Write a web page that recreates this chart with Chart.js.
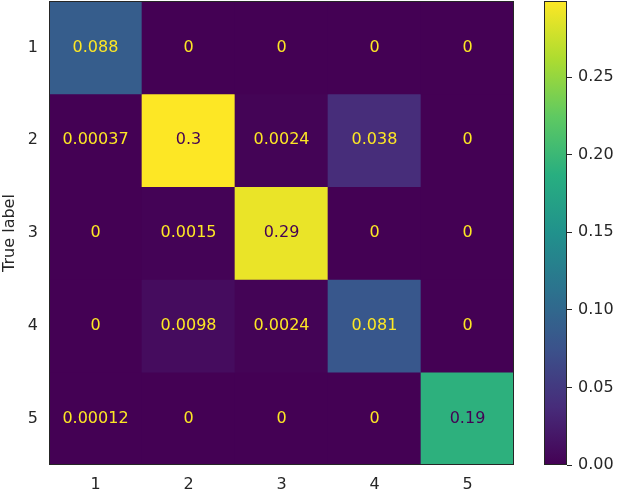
<!DOCTYPE html>
<html>
<head>
<meta charset="utf-8">
<script src="https://cdn.jsdelivr.net/npm/chart.js@4.4.1/dist/chart.umd.min.js"></script>
<style>
  body { margin: 0; background: #fff; }
  #wrap { position: relative; width: 617px; height: 491px; }
  #wrap canvas { position: absolute; left: 0; top: 0; }
</style>
</head>
<body>
<div id="wrap">
  <canvas id="matrix" width="617" height="491"></canvas>
  <canvas id="cbar" width="617" height="491"></canvas>
</div>
<script>
// Confusion matrix data (rows = true label, columns = predicted label)
const trueLabels = ['1', '2', '3', '4', '5'];
const predLabels = ['1', '2', '3', '4', '5'];
const row1 = [0.088, 0, 0, 0, 0];
const row2 = [0.00037, 0.299, 0.0024, 0.038, 0];
const row3 = [0, 0.0015, 0.29, 0, 0];
const row4 = [0, 0.0098, 0.0024, 0.081, 0];
const row5 = [0.00012, 0, 0, 0, 0.19];
const cbarTicks = [0, 0.05, 0.1, 0.15, 0.2, 0.25];

const matrix = [row1, row2, row3, row4, row5];
const vmax = Math.max(...matrix.flat());

// Viridis colormap stops
const viridisStops = [
  [0.0, [68, 1, 84]],
  [0.125, [71, 44, 122]],
  [0.25, [59, 82, 139]],
  [0.375, [44, 114, 142]],
  [0.5, [33, 145, 140]],
  [0.625, [40, 174, 128]],
  [0.75, [94, 201, 98]],
  [0.875, [173, 220, 48]],
  [1.0, [253, 231, 37]]
];

function viridis(t) {
  t = Math.min(1, Math.max(0, t));
  for (let i = 1; i < viridisStops.length; i++) {
    const [t1, c1] = viridisStops[i];
    const [t0, c0] = viridisStops[i - 1];
    if (t <= t1) {
      const f = (t - t0) / (t1 - t0);
      const c = c0.map((v, k) => Math.round(v + (c1[k] - v) * f));
      return `rgb(${c[0]}, ${c[1]}, ${c[2]})`;
    }
  }
  return 'rgb(253, 231, 37)';
}

const FONT = { family: '"DejaVu Sans", sans-serif', size: 16 };
const TEXT = '#262626';

// drop the label overflow padding chart.js adds around axes
function noPad(s) {
  s.paddingTop = 0;
  s.paddingBottom = 0;
  s.paddingLeft = 0;
  s.paddingRight = 0;
}

// Outline around the plot area
const framePlugin = {
  id: 'frame',
  afterDatasetsDraw(chart) {
    const { ctx, chartArea: a } = chart;
    ctx.save();
    ctx.strokeStyle = '#262626';
    ctx.lineWidth = 1;
    ctx.strokeRect(Math.round(a.left) + 0.5, Math.round(a.top) + 0.5,
      Math.round(a.right - a.left) - 1, Math.round(a.bottom - a.top) - 1);
    ctx.restore();
  }
};

// Cell value annotations
const cellTextPlugin = {
  id: 'cellText',
  afterDatasetsDraw(chart) {
    const { ctx } = chart;
    ctx.save();
    ctx.font = `${FONT.size}px ${FONT.family}`;
    ctx.textAlign = 'center';
    ctx.textBaseline = 'middle';
    matrix.forEach((row, i) => {
      const meta = chart.getDatasetMeta(i);
      row.forEach((v, j) => {
        const el = meta.data[j];
        const cy = (el.y + el.base) / 2;
        ctx.fillStyle = v < vmax / 2 ? viridis(1) : viridis(0);
        ctx.fillText(String(Number(v.toPrecision(2))), el.x, cy);
      });
    });
    ctx.restore();
  }
};

new Chart(document.getElementById('matrix'), {
  type: 'bar',
  data: {
    labels: predLabels,
    datasets: matrix.map((row, i) => ({
      label: trueLabels[i],
      data: row.map(() => [i + 0.5, i + 1.5]),
      backgroundColor: row.map(v => viridis(v / vmax)),
      borderWidth: 0,
      barPercentage: 1,
      categoryPercentage: 1,
      grouped: false
    }))
  },
  options: {
    responsive: false,
    animation: false,
    layout: { padding: { top: 1, right: 103, left: 0, bottom: 0 } },
    plugins: { legend: { display: false }, tooltip: { enabled: false } },
    scales: {
      x: {
        grid: { display: false, drawTicks: false },
        border: { display: false },
        ticks: { font: FONT, color: TEXT, padding: 10 },
        afterFit: s => { s.height = 26; noPad(s); }
      },
      y: {
        type: 'linear',
        reverse: true,
        min: 0.5,
        max: trueLabels.length + 0.5,
        grid: { display: false, drawTicks: false },
        border: { display: false },
        afterBuildTicks: s => { s.ticks = trueLabels.map((_, i) => ({ value: i + 1 })); },
        ticks: {
          font: FONT, color: TEXT, padding: 11,
          callback: v => trueLabels[v - 1]
        },
        title: { display: true, text: 'True label', font: FONT, color: TEXT, padding: 0 },
        afterFit: s => { s.width = 49; noPad(s); }
      }
    }
  },
  plugins: [cellTextPlugin, framePlugin]
});

// Colorbar
new Chart(document.getElementById('cbar'), {
  type: 'bar',
  data: {
    labels: [''],
    datasets: [{
      data: [[0, vmax]],
      backgroundColor: ctx => {
        const a = ctx.chart.chartArea;
        if (!a) return viridis(0.5);
        const g = ctx.chart.ctx.createLinearGradient(0, a.bottom, 0, a.top);
        viridisStops.forEach(([t, c]) => g.addColorStop(t, `rgb(${c[0]}, ${c[1]}, ${c[2]})`));
        return g;
      },
      borderWidth: 0,
      barPercentage: 1,
      categoryPercentage: 1
    }]
  },
  options: {
    responsive: false,
    animation: false,
    layout: { padding: { top: 1, right: 0, left: 544, bottom: 26 } },
    plugins: { legend: { display: false }, tooltip: { enabled: false } },
    scales: {
      x: { display: false },
      y: {
        position: 'right',
        min: 0,
        max: vmax,
        grid: { drawOnChartArea: false, drawTicks: true, tickLength: 5, tickColor: '#262626' },
        border: { display: false },
        afterBuildTicks: s => { s.ticks = cbarTicks.map(v => ({ value: v })); },
        ticks: { font: FONT, color: TEXT, padding: 6, callback: v => v.toFixed(2) },
        afterFit: s => { s.width = 50; noPad(s); }
      }
    }
  },
  plugins: [framePlugin]
});
</script>
</body>
</html>
